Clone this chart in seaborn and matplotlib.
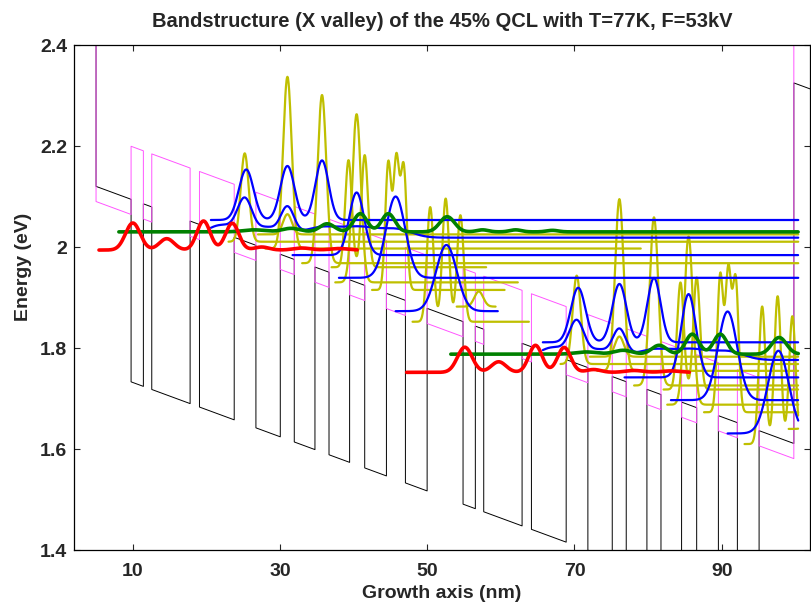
import numpy as np
import pandas as pd
import matplotlib
matplotlib.use("Agg")
import matplotlib.pyplot as plt
import seaborn as sns

sns.set_theme(style="ticks")
plt.rcParams['font.family'] = ['Liberation Sans', 'DejaVu Sans']

# ---------------- data ----------------
title = "Bandstructure (X valley) of the 45% QCL with T=77K, F=53kV"
x_ticks = [10, 30, 50, 70, 90]
y_ticks = [1.4, 1.6, 1.8, 2.0, 2.2, 2.4]
y_ticklabels = ["1.4", "1.6", "1.8", "2", "2.2", "2.4"]

# structure: wells of one period (nm), period length, field slope
well_left = [9.76, 12.57, 19.05, 26.72, 31.93, 36.65, 41.5, 47.03]
well_right = [11.43, 17.78, 23.77, 30.03, 34.74, 39.45, 44.45, 49.98]
period_nm = 45.1
n_periods = 2
struct_start = 5.0
struct_end = 99.8
field_eV_per_nm = 0.00537
gamma_barrier_at_0 = 2.1469      # black barrier top extrapolated to x=0
gamma_well_offset = -0.3615      # black: well bottom relative to barrier top
x_barrier_offset = -0.030        # pink: barrier level relative to black barrier
x_well_offset = 0.105            # pink: well level relative to black barrier
left_contact_offset = 1.0
right_contact_black = 0.714
right_contact_pink = 1.0
state_x_min = 5.4
state_x_max = 100.4

# states of the first period:
# (baseline eV, x start, x end, [(centre nm, height eV, sigma nm)], height factor in period 2)
olive_states = [
    (2.0105, 23.0, 100.4, [(25.2, 0.175, 0.55)], 1.0),
    (2.025, 27.0, 100.4, [(31.0, 0.04, 0.6)], 1.0),
    (1.997, 28.0, 79.0, [(31.0, 0.34, 0.58)], 1.0),
    (1.968, 33.0, 100.4, [(35.7, 0.333, 0.58)], 1.0),
    (1.960, 37.0, 58.0, [(39.3, 0.212, 0.45), (41.5, 0.222, 0.45)], 1.0),
    (1.930, 37.5, 62.3, [(40.4, 0.333, 0.58)], 1.0),
    (1.915, 42.5, 60.5, [(44.7, 0.25, 0.4), (45.8, 0.255, 0.4), (46.8, 0.24, 0.4)], 1.08),
    (1.882, 54.0, 59.3, [(57.0, 0.03, 0.6)], 1.0),
    (1.852, 48.0, 63.8, [(50.4, 0.227, 0.45), (52.5, 0.244, 0.45), (54.5, 0.211, 0.45)], 1.2),
]
blue_states = [
    (2.0535, 20.6, 100.4, [(25.4, 0.100, 1.0), (31.0, 0.107, 0.95), (35.7, 0.118, 0.9)], 1.08),
    (2.0185, 20.6, 100.4, [(22.0, 0.025, 2.0), (25.2, 0.070, 1.0), (28.2, 0.020, 1.5),
                           (31.0, 0.055, 0.9), (35.5, 0.020, 2.5), (41.0, 0.020, 2.5),
                           (46.0, 0.015, 2.0)], 1.0),
    (1.984, 31.7, 100.4, [(40.4, 0.124, 1.0)], 1.33),
    (1.939, 38.0, 100.4, [(45.7, 0.161, 1.3)], 1.09),
    (1.873, 45.7, 59.6, [(52.6, 0.131, 1.4)], 1.25),
]
green_states = [
    (2.030, 8.1, 100.4, [(26.5, 0.004, 1.5), (31.5, 0.007, 1.2), (36.4, 0.016, 1.0),
                         (40.9, 0.036, 0.9), (44.7, 0.036, 0.9), (52.7, 0.030, 1.0),
                         (57.5, 0.004, 0.8), (62.0, 0.004, 0.8), (67.0, 0.003, 0.8)], 1.1),
]
red_states = [
    (1.994, 2.1, 40.5, [(10.0, 0.0535, 1.0), (14.6, 0.0225, 1.0), (19.6, 0.0575, 0.9),
                        (23.5, 0.053, 0.9), (27.5, 0.006, 1.0), (33.0, 0.004, 1.2),
                        (38.0, 0.003, 1.2)], 0.93),
]

# ---------------- build band profiles ----------------
def barrier_top(x):
    return gamma_barrier_at_0 - field_eV_per_nm * x

layers = [(2.0, struct_start, "left")]
prev = struct_start
for p in range(n_periods):
    for wl, wr in zip(well_left, well_right):
        a, b = wl + p * period_nm, wr + p * period_nm
        layers.append((prev, a, "barrier"))
        layers.append((a, b, "well"))
        prev = b
layers.append((prev, struct_end, "barrier"))
layers.append((struct_end, 102.0, "right"))

black_off = {"left": left_contact_offset, "barrier": 0.0, "well": gamma_well_offset,
             "right": right_contact_black}
pink_off = {"left": left_contact_offset, "barrier": x_barrier_offset, "well": x_well_offset,
            "right": right_contact_pink}

def profile(offsets):
    xs, ys = [], []
    for x0, x1, kind in layers:
        xs += [x0, x1]
        ys += [barrier_top(x0) + offsets[kind], barrier_top(x1) + offsets[kind]]
    return pd.DataFrame({"x": xs, "E": ys})

# ---------------- plotting ----------------
fig = plt.figure(figsize=(8.11, 6.06), dpi=100)
ax = fig.add_axes([0.0912, 0.0924, 0.9076, 0.8333])

sns.lineplot(data=profile(black_off), x="x", y="E", sort=False, estimator=None,
             color="black", linewidth=0.7, ax=ax)
sns.lineplot(data=profile(pink_off), x="x", y="E", sort=False, estimator=None,
             color="#ff55ff", linewidth=0.7, ax=ax)

def state_curve(E, xs, xe, peaks, fac, p):
    shift = p * period_nm
    x0 = max(xs + shift, state_x_min)
    x1 = min(xe + shift, state_x_max)
    if x1 <= x0:
        return None
    scale = fac if p == 1 else 1.0
    x = np.arange(x0, x1 + 1e-9, 0.04)
    y = np.full_like(x, E - p * field_eV_per_nm * period_nm)
    for c, h, s in peaks:
        y += scale * h * np.exp(-((x - (c + shift)) ** 2) / (2 * s * s))
    return pd.DataFrame({"x": x, "E": y})

for states, col, lw in [(olive_states, "#bfbf00", 1.6), (blue_states, "#0000ff", 1.6),
                        (green_states, "#008000", 2.6), (red_states, "#ff0000", 2.6)]:
    for p in range(n_periods):
        for E, xs, xe, peaks, fac in states:
            df = state_curve(E, xs, xe, peaks, fac, p)
            if df is not None:
                sns.lineplot(data=df, x="x", y="E", sort=False, estimator=None,
                             color=col, linewidth=lw, ax=ax)

ax.set_xlim(2.0, 102.0)
ax.set_ylim(1.4, 2.4)
ax.set_xticks(x_ticks)
ax.set_xticklabels([str(t) for t in x_ticks], fontweight="bold", fontsize=14)
ax.set_yticks(y_ticks)
ax.set_yticklabels(y_ticklabels, fontweight="bold", fontsize=14)
ax.tick_params(direction="in", top=True, right=True, length=4, width=0.8)
ax.tick_params(axis="x", pad=9)
ax.tick_params(axis="y", pad=5)
for s in ax.spines.values():
    s.set_visible(True)
    s.set_linewidth(0.9)
    s.set_color("black")
ax.set_xlabel("Growth axis (nm)", fontweight="bold", fontsize=14, labelpad=4)
ax.set_ylabel("Energy (eV)", fontweight="bold", fontsize=14)
ax.yaxis.set_label_coords(-0.057, 0.56)
ax.set_title(title, fontweight="bold", fontsize=14.5, pad=13)

fig.savefig("out.png", dpi=100)
